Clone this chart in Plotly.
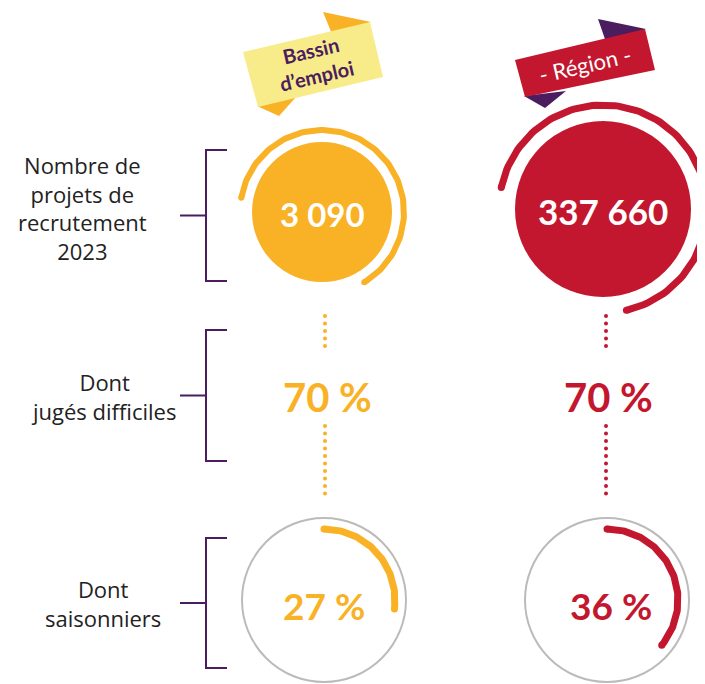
import numpy as np
import plotly.graph_objects as go

# data
row_labels = ["Nombre de<br>projets de<br>recrutement<br>2023", "Dont<br>jugés difficiles", "Dont<br>saisonniers"]
zones = ["Bassin<br>d’emploi", "- Région -"]
projets = [3090, 337660]
difficiles = [70, 70]
saisonniers = [27, 36]

ORANGE = "#F9B126"
RED = "#C3172F"
PURPLE = "#4B1D5E"
YELLOW_LIGHT = "#F8EC8A"
GREY = "#BDBBBA"
zone_colors = [ORANGE, RED]
tail_colors = [ORANGE, PURPLE]
col_x = [323, 605]

W, H = 705, 684
OFF = 8  # page body margin
fig = go.Figure()
shapes = []
annotations = []


def arc(cx, cy, r, a0, a1, n=120):
    a = np.radians(np.linspace(a0, a1, n))
    return cx + r * np.cos(a), cy - r * np.sin(a)


def add_arc(cx, cy, r, a0, a1, color, width):
    xs, ys = arc(cx, cy, r, a0, a1)
    fig.add_trace(go.Scatter(x=xs, y=ys, mode="lines", line=dict(color=color, width=width),
                             hoverinfo="skip", showlegend=False))
    fig.add_trace(go.Scatter(x=[xs[0], xs[-1]], y=[ys[0], ys[-1]], mode="markers",
                             marker=dict(color=color, size=width, line=dict(width=0)),
                             hoverinfo="skip", showlegend=False))


def poly(pts, color):
    d = "M " + " L ".join(f"{x},{y}" for x, y in pts) + " Z"
    shapes.append(dict(type="path", path=d, fillcolor=color, line=dict(width=0), layer="below"))


# left labels and brackets
label_pos = [(82, 208), (103, 396), (103, 603)]
bracket_y = [(150, 281), (330, 461), (538, 668)]
for lab, (lx, ly), (y0, y1) in zip(row_labels, label_pos, bracket_y):
    annotations.append(dict(x=lx, y=ly, text=lab, showarrow=False, align="center",
                            font=dict(family="Open Sans", size=22, color="#222222")))
    ym = (y0 + y1) / 2
    d = f"M 227,{y0} L 206,{y0} L 206,{y1} L 227,{y1} M 180,{ym} L 206,{ym}"
    shapes.append(dict(type="path", path=d, line=dict(color=PURPLE, width=2)))

# banners
banners = [
    dict(rect=[(243, 52), (370, 22), (383, 77), (258, 107)],
         top=[(323, 12), (371, 22), (332, 34)], bot=[(257, 106), (296, 97), (279, 116)],
         fill=YELLOW_LIGHT, tc=PURPLE, tx=(313, 63), size=20, bold=True),
    dict(rect=[(515, 60), (645, 29), (655, 70), (525, 97)],
         top=[(598, 19), (646, 29), (606, 42)], bot=[(524, 96), (545, 108), (566, 91)],
         fill=RED, tc="white", tx=(585, 64), size=22, bold=False),
]
for i, b in enumerate(banners):
    poly(b["top"], tail_colors[i])
    poly(b["bot"], tail_colors[i])
    poly(b["rect"], b["fill"])
    txt = f"<b>{zones[i]}</b>" if b["bold"] else zones[i]
    annotations.append(dict(x=b["tx"][0], y=b["tx"][1], text=txt, showarrow=False, textangle=-13,
                            font=dict(family="Lato", size=b["size"], color=b["tc"])))

# top circles
top_geo = [dict(c=(322, 212), r=70, ar=82, a0=170, a1=-59, w=6, fs=33),
           dict(c=(603, 209), r=88, ar=104, a0=168, a1=-77, w=7, fs=35)]
for i, g in enumerate(top_geo):
    cx, cy = g["c"]
    shapes.append(dict(type="circle", x0=cx - g["r"], x1=cx + g["r"], y0=cy - g["r"], y1=cy + g["r"],
                       fillcolor=zone_colors[i], line=dict(width=0)))
    add_arc(cx, cy, g["ar"], g["a0"], g["a1"], zone_colors[i], g["w"])
    annotations.append(dict(x=cx, y=cy + 2, text=f"<b>{projets[i]:,}</b>".replace(",", " "),
                            showarrow=False, font=dict(family="Lato", size=g["fs"], color="white")))

# dotted connectors + percentages
for i in range(2):
    x = col_x[i] + (1 if i else 2)
    ys = np.concatenate([np.arange(316, 350, 7.5), np.arange(426, 498, 7.5)])
    fig.add_trace(go.Scatter(x=[x] * len(ys), y=ys, mode="markers",
                             marker=dict(color=zone_colors[i], size=4, line=dict(width=0)),
                             hoverinfo="skip", showlegend=False))
    annotations.append(dict(x=x + 2, y=397, text=f"<b>{difficiles[i]} %</b>", showarrow=False,
                            font=dict(family="Lato", size=40, color=zone_colors[i])))

# bottom circles
bot_c = [(324, 600), (607, 600)]
for i, (cx, cy) in enumerate(bot_c):
    shapes.append(dict(type="circle", x0=cx - 82, x1=cx + 82, y0=cy - 82, y1=cy + 82,
                       line=dict(color=GREY, width=2)))
    add_arc(cx, cy, 71, 90, 90 - saisonniers[i] * 3.6, zone_colors[i], 7)
    annotations.append(dict(x=cx + (0 if i == 0 else 4), y=cy + 5, text=f"<b>{saisonniers[i]} %</b>",
                            showarrow=False, font=dict(family="Lato", size=37, color=zone_colors[i])))

fig.update_layout(
    width=W, height=H, margin=dict(l=0, r=0, t=0, b=0),
    paper_bgcolor="white", plot_bgcolor="white",
    xaxis=dict(range=[OFF, W + OFF], visible=False, fixedrange=True),
    yaxis=dict(range=[H + OFF, OFF], visible=False, fixedrange=True),
    shapes=shapes, annotations=annotations, showlegend=False,
)
fig.write_html("out.html")
